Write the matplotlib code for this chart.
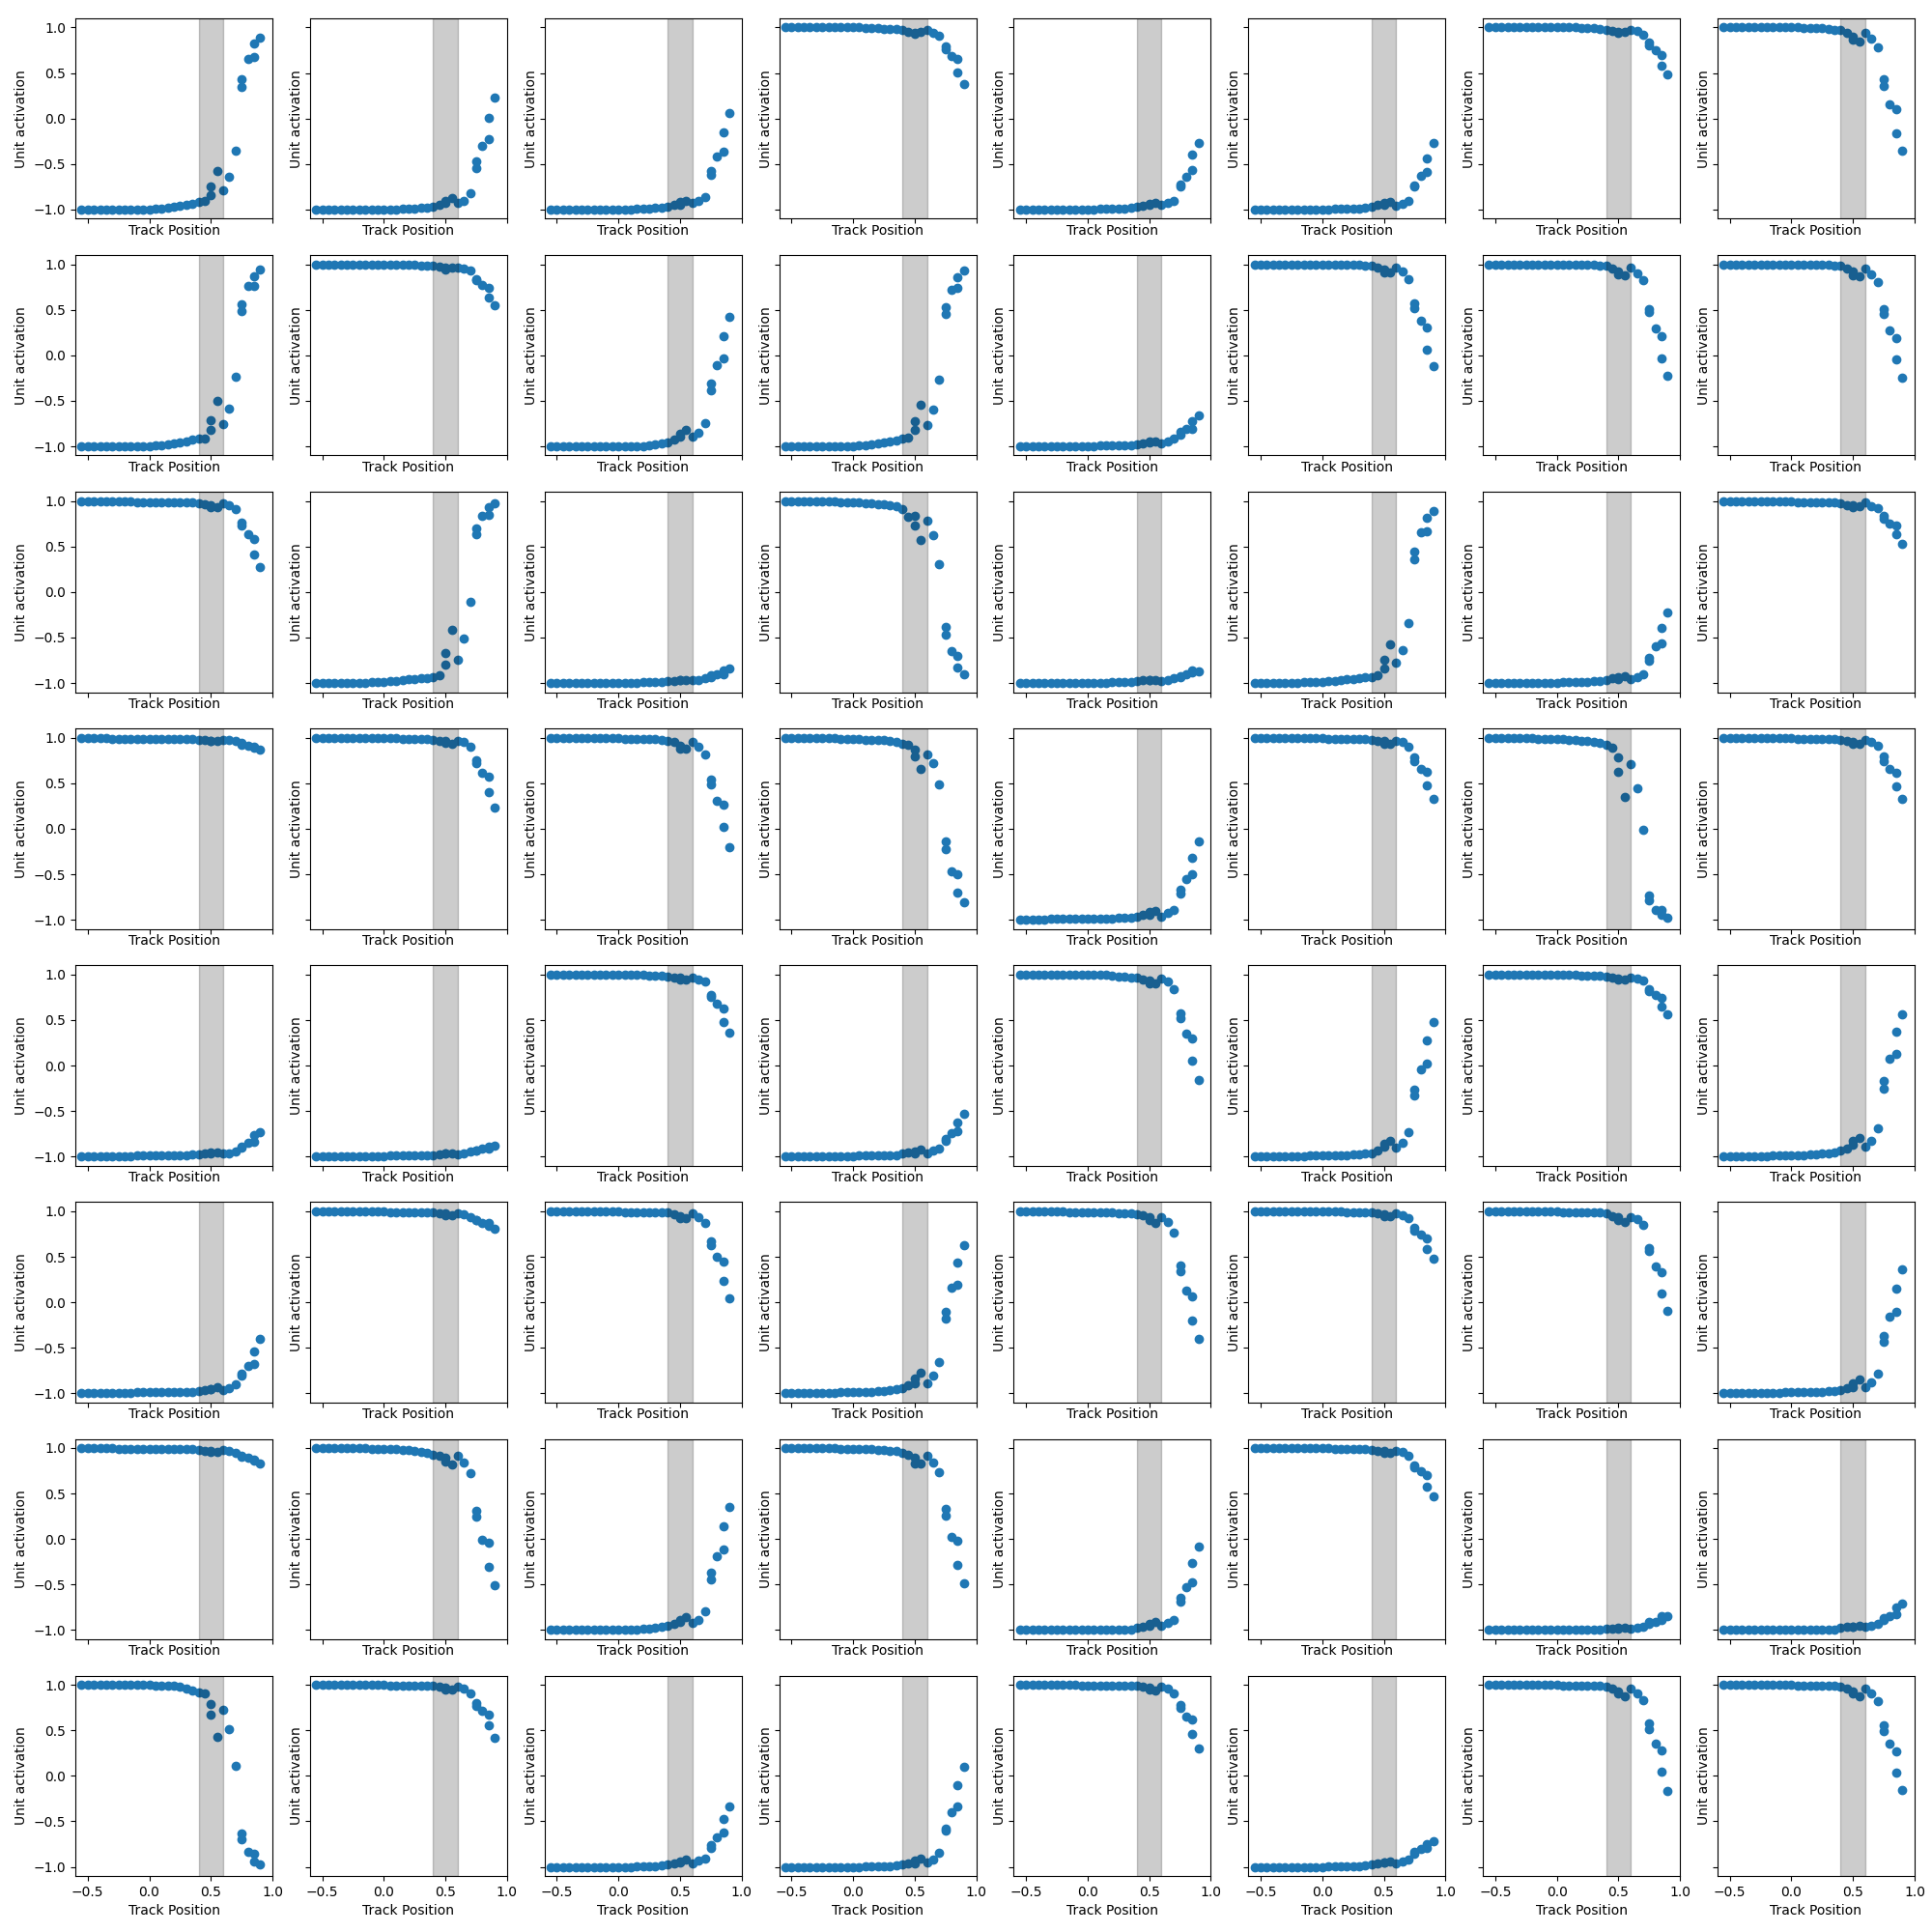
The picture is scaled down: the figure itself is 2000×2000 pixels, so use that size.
import matplotlib
matplotlib.use("Agg")
import matplotlib.pyplot as plt

# track positions sampled (0.5, 0.75 and 0.85 appear twice)
track_pos = [-0.55, -0.5, -0.45, -0.4, -0.35, -0.3, -0.25, -0.2, -0.15, -0.1, -0.05, 0.0, 0.05, 0.1,
             0.15, 0.2, 0.25, 0.3, 0.35, 0.4, 0.45, 0.5, 0.5, 0.55, 0.6, 0.65, 0.7, 0.75, 0.75, 0.8, 0.85, 0.85, 0.9]

# unit activations, one list per unit, grouped by row of the grid
act_row0 = [
    [-1, -1, -1, -1, -1, -1, -1, -1, -1, -1, -1, -1, -0.99, -0.99,
     -0.98, -0.97, -0.96, -0.95, -0.94, -0.92, -0.91, -0.84, -0.75, -0.58, -0.79, -0.64, -0.35, 0.35, 0.43, 0.65, 0.68, 0.82, 0.89],
    [-1, -1, -1, -1, -1, -1, -1, -1, -1, -1, -1, -1, -1, -1,
     -0.99, -0.99, -0.99, -0.98, -0.98, -0.97, -0.95, -0.93, -0.91, -0.87, -0.93, -0.91, -0.82, -0.54, -0.47, -0.30, -0.23, 0.01, 0.23],
    [-1, -1, -1, -1, -1, -1, -1, -1, -1, -1, -1, -1, -1, -1,
     -0.99, -0.99, -0.99, -0.98, -0.98, -0.97, -0.95, -0.95, -0.92, -0.90, -0.93, -0.91, -0.86, -0.62, -0.58, -0.42, -0.36, -0.15, 0.06],
    [1, 1, 1, 1, 1, 1, 1, 1, 1, 1, 1, 1, 1, 0.99,
     0.99, 0.99, 0.98, 0.98, 0.98, 0.97, 0.95, 0.94, 0.93, 0.95, 0.97, 0.945, 0.91, 0.79, 0.76, 0.69, 0.65, 0.51, 0.38],
    [-1, -1, -1, -1, -1, -1, -1, -1, -1, -1, -1, -1, -1, -0.99,
     -0.99, -0.99, -0.99, -0.99, -0.98, -0.97, -0.96, -0.95, -0.94, -0.93, -0.95, -0.93, -0.90, -0.75, -0.72, -0.64, -0.57, -0.40, -0.27],
    [-1, -1, -1, -1, -1, -1, -1, -1, -1, -1, -1, -1, -1, -0.99,
     -0.99, -0.99, -0.99, -0.99, -0.98, -0.97, -0.95, -0.95, -0.93, -0.92, -0.96, -0.94, -0.90, -0.75, -0.74, -0.63, -0.59, -0.44, -0.27],
    [1, 1, 1, 1, 1, 1, 1, 1, 1, 1, 1, 1, 1, 1,
     1, 0.99, 0.99, 0.99, 0.985, 0.975, 0.965, 0.955, 0.94, 0.95, 0.975, 0.96, 0.92, 0.83, 0.80, 0.745, 0.70, 0.585, 0.48],
    [1, 1, 1, 1, 1, 1, 1, 1, 1, 1, 1, 1, 1, 0.99,
     0.99, 0.99, 0.99, 0.98, 0.97, 0.97, 0.945, 0.90, 0.87, 0.85, 0.94, 0.88, 0.78, 0.43, 0.36, 0.16, 0.10, -0.16, -0.35],
]

act_row1 = [
    [-1, -1, -1, -1, -1, -1, -1, -1, -1, -1, -1, -1, -0.99, -0.99,
     -0.98, -0.97, -0.96, -0.95, -0.93, -0.91, -0.91, -0.82, -0.71, -0.50, -0.76, -0.59, -0.24, 0.49, 0.565, 0.76, 0.76, 0.87, 0.94],
    [1, 1, 1, 1, 1, 1, 1, 1, 1, 1, 1, 1, 0.99, 0.99,
     0.99, 0.99, 0.99, 0.98, 0.98, 0.98, 0.97, 0.96, 0.94, 0.96, 0.96, 0.95, 0.93, 0.84, 0.83, 0.77, 0.74, 0.63, 0.55],
    [-1, -1, -1, -1, -1, -1, -1, -1, -1, -1, -1, -1, -1, -1,
     -1, -1, -0.99, -0.98, -0.97, -0.96, -0.93, -0.89, -0.86, -0.82, -0.89, -0.85, -0.75, -0.38, -0.31, -0.11, -0.03, 0.21, 0.42],
    [-1, -1, -1, -1, -1, -1, -1, -1, -1, -1, -1, -1, -0.99, -0.99,
     -0.98, -0.97, -0.96, -0.95, -0.94, -0.91, -0.90, -0.82, -0.72, -0.54, -0.77, -0.60, -0.27, 0.45, 0.53, 0.72, 0.74, 0.86, 0.93],
    [-1, -1, -1, -1, -1, -1, -1, -1, -1, -1, -1, -1, -1, -0.99,
     -0.99, -0.99, -0.99, -0.99, -0.99, -0.98, -0.97, -0.96, -0.95, -0.95, -0.97, -0.95, -0.92, -0.87, -0.84, -0.81, -0.81, -0.72, -0.66],
    [1, 1, 1, 1, 1, 1, 1, 1, 1, 1, 1, 1, 1, 0.99,
     0.99, 0.99, 0.99, 0.99, 0.98, 0.98, 0.965, 0.94, 0.91, 0.905, 0.965, 0.92, 0.84, 0.575, 0.52, 0.38, 0.30, 0.06, -0.12],
    [1, 1, 1, 1, 1, 1, 1, 1, 1, 1, 1, 1, 1, 0.99,
     0.99, 0.99, 0.99, 0.99, 0.985, 0.98, 0.955, 0.92, 0.89, 0.88, 0.965, 0.90, 0.82, 0.51, 0.47, 0.29, 0.21, -0.03, -0.23],
    [1, 1, 1, 1, 1, 1, 1, 1, 1, 1, 1, 1, 1, 0.99,
     0.99, 0.99, 0.99, 0.99, 0.985, 0.98, 0.95, 0.92, 0.88, 0.87, 0.955, 0.89, 0.80, 0.505, 0.45, 0.27, 0.19, -0.05, -0.25],
]

act_row2 = [
    [1, 1, 1, 1, 1, 1, 1, 1, 1, 0.99, 0.99, 0.99, 0.99, 0.99,
     0.99, 0.98, 0.98, 0.98, 0.98, 0.975, 0.965, 0.955, 0.93, 0.93, 0.975, 0.95, 0.91, 0.76, 0.73, 0.635, 0.585, 0.415, 0.27],
    [-1, -1, -1, -1, -1, -1, -1, -1, -1, -0.99, -0.99, -0.99, -0.98, -0.98,
     -0.97, -0.96, -0.96, -0.95, -0.95, -0.93, -0.91, -0.80, -0.67, -0.42, -0.74, -0.51, -0.11, 0.63, 0.70, 0.84, 0.85, 0.93, 0.97],
    [-1, -1, -1, -1, -1, -1, -1, -1, -1, -1, -1, -1, -1, -1,
     -1, -0.99, -0.99, -0.99, -0.99, -0.98, -0.98, -0.97, -0.97, -0.97, -0.97, -0.97, -0.95, -0.93, -0.91, -0.90, -0.90, -0.86, -0.835],
    [1, 1, 1, 1, 1, 1, 1, 1, 0.995, 0.99, 0.99, 0.985, 0.98, 0.975,
     0.97, 0.965, 0.96, 0.955, 0.94, 0.91, 0.83, 0.84, 0.73, 0.57, 0.78, 0.62, 0.31, -0.385, -0.47, -0.65, -0.70, -0.83, -0.90],
    [-1, -1, -1, -1, -1, -1, -1, -1, -1, -1, -1, -1, -1, -1,
     -1, -0.99, -0.99, -0.99, -0.99, -0.98, -0.97, -0.965, -0.97, -0.965, -0.98, -0.965, -0.95, -0.93, -0.92, -0.90, -0.88, -0.86, -0.87],
    [-1, -1, -1, -1, -1, -1, -1, -1, -0.99, -0.99, -0.99, -0.99, -0.98, -0.98,
     -0.97, -0.96, -0.96, -0.95, -0.94, -0.93, -0.91, -0.84, -0.74, -0.57, -0.78, -0.64, -0.34, 0.36, 0.44, 0.66, 0.67, 0.82, 0.89],
    [-1, -1, -1, -1, -1, -1, -1, -1, -1, -1, -1, -1, -0.99, -0.99,
     -0.99, -0.99, -0.99, -0.98, -0.98, -0.97, -0.95, -0.96, -0.94, -0.92, -0.96, -0.93, -0.90, -0.75, -0.72, -0.60, -0.56, -0.39, -0.22],
    [1, 1, 1, 1, 1, 1, 1, 1, 1, 1, 1, 1, 0.99, 0.99,
     0.99, 0.99, 0.99, 0.99, 0.985, 0.975, 0.955, 0.955, 0.93, 0.94, 0.98, 0.945, 0.92, 0.84, 0.81, 0.75, 0.73, 0.63, 0.53],
]

act_row3 = [
    [1, 1, 1, 1, 1, 0.99, 0.99, 0.99, 0.99, 0.99, 0.99, 0.99, 0.99, 0.99,
     0.99, 0.99, 0.99, 0.985, 0.985, 0.98, 0.975, 0.97, 0.96, 0.96, 0.98, 0.975, 0.96, 0.94, 0.92, 0.91, 0.90, 0.89, 0.87],
    [1, 1, 1, 1, 1, 1, 1, 1, 1, 1, 1, 1, 1, 1,
     0.99, 0.99, 0.99, 0.99, 0.99, 0.98, 0.965, 0.965, 0.94, 0.93, 0.965, 0.955, 0.90, 0.75, 0.72, 0.61, 0.57, 0.40, 0.23],
    [1, 1, 1, 1, 1, 1, 1, 1, 1, 1, 1, 1, 0.99, 0.99,
     0.99, 0.99, 0.985, 0.985, 0.975, 0.965, 0.95, 0.91, 0.88, 0.875, 0.955, 0.90, 0.82, 0.545, 0.49, 0.31, 0.27, 0.02, -0.20],
    [1, 1, 1, 1, 1, 1, 1, 1, 1, 0.99, 0.99, 0.99, 0.99, 0.98,
     0.98, 0.98, 0.975, 0.965, 0.955, 0.93, 0.92, 0.865, 0.795, 0.66, 0.82, 0.72, 0.49, -0.14, -0.22, -0.47, -0.50, -0.70, -0.81],
    [-1, -1, -1, -1, -1, -0.99, -0.99, -0.99, -0.99, -0.99, -0.99, -0.99, -0.985, -0.985,
     -0.985, -0.985, -0.98, -0.98, -0.98, -0.97, -0.95, -0.91, -0.94, -0.90, -0.965, -0.92, -0.89, -0.67, -0.71, -0.55, -0.50, -0.32, -0.14],
    [1, 1, 1, 1, 1, 1, 1, 1, 1, 1, 1, 1, 0.99, 0.99,
     0.99, 0.99, 0.99, 0.99, 0.99, 0.98, 0.965, 0.965, 0.935, 0.93, 0.965, 0.95, 0.90, 0.78, 0.745, 0.66, 0.63, 0.48, 0.33],
    [1, 1, 1, 1, 1, 1, 1, 1, 0.99, 0.99, 0.99, 0.99, 0.99, 0.98,
     0.975, 0.97, 0.96, 0.95, 0.94, 0.92, 0.89, 0.78, 0.63, 0.345, 0.71, 0.45, -0.01, -0.73, -0.79, -0.89, -0.89, -0.95, -0.98],
    [1, 1, 1, 1, 1, 1, 1, 1, 1, 1, 1, 1, 0.99, 0.99,
     0.99, 0.99, 0.99, 0.99, 0.99, 0.975, 0.965, 0.955, 0.93, 0.93, 0.975, 0.95, 0.91, 0.79, 0.745, 0.66, 0.62, 0.47, 0.33],
]

act_row4 = [
    [-1, -1, -1, -1, -1, -1, -1, -1, -1, -0.99, -0.99, -0.99, -0.99, -0.99,
     -0.99, -0.985, -0.985, -0.985, -0.975, -0.975, -0.97, -0.95, -0.965, -0.95, -0.965, -0.96, -0.94, -0.89, -0.905, -0.845, -0.835, -0.765, -0.735],
    [-1, -1, -1, -1, -1, -1, -1, -1, -1, -1, -1, -1, -0.99, -0.99,
     -0.99, -0.99, -0.99, -0.99, -0.99, -0.985, -0.975, -0.97, -0.97, -0.965, -0.98, -0.97, -0.945, -0.93, -0.93, -0.915, -0.915, -0.89, -0.885],
    [1, 1, 1, 1, 1, 1, 1, 1, 1, 1, 1, 1, 1, 1,
     1, 1, 0.99, 0.99, 0.99, 0.98, 0.965, 0.965, 0.945, 0.945, 0.965, 0.945, 0.92, 0.77, 0.75, 0.68, 0.63, 0.475, 0.36],
    [-1, -1, -1, -1, -1, -1, -1, -1, -1, -1, -1, -1, -0.99, -0.99,
     -0.99, -0.99, -0.985, -0.985, -0.985, -0.965, -0.95, -0.94, -0.96, -0.92, -0.965, -0.935, -0.915, -0.81, -0.83, -0.745, -0.72, -0.63, -0.53],
    [1, 1, 1, 1, 1, 1, 1, 1, 1, 1, 1, 1, 1, 1,
     1, 0.99, 0.98, 0.98, 0.97, 0.965, 0.945, 0.93, 0.90, 0.90, 0.955, 0.925, 0.84, 0.57, 0.52, 0.35, 0.30, 0.05, -0.16],
    [-1, -1, -1, -1, -1, -1, -1, -1, -1, -0.99, -0.99, -0.99, -0.99, -0.99,
     -0.985, -0.985, -0.98, -0.975, -0.97, -0.96, -0.935, -0.89, -0.86, -0.825, -0.905, -0.85, -0.73, -0.33, -0.265, -0.045, 0.025, 0.275, 0.475],
    [1, 1, 1, 1, 1, 1, 1, 1, 1, 1, 1, 1, 1, 1,
     1, 0.99, 0.99, 0.99, 0.99, 0.98, 0.965, 0.96, 0.945, 0.945, 0.965, 0.955, 0.93, 0.84, 0.82, 0.78, 0.74, 0.65, 0.565],
    [-1, -1, -1, -1, -1, -1, -1, -1, -0.99, -0.99, -0.99, -0.99, -0.99, -0.985,
     -0.98, -0.975, -0.97, -0.96, -0.955, -0.935, -0.915, -0.87, -0.825, -0.79, -0.89, -0.83, -0.69, -0.25, -0.17, 0.075, 0.13, 0.37, 0.565],
]

act_row5 = [
    [-1, -1, -1, -1, -1, -1, -1, -1, -1, -0.99, -0.99, -0.99, -0.99, -0.99,
     -0.99, -0.985, -0.985, -0.985, -0.985, -0.975, -0.965, -0.95, -0.955, -0.935, -0.965, -0.94, -0.905, -0.80, -0.78, -0.70, -0.675, -0.54, -0.40],
    [1, 1, 1, 1, 1, 1, 1, 1, 1, 1, 1, 1, 0.99, 0.99,
     0.99, 0.99, 0.99, 0.99, 0.99, 0.985, 0.975, 0.975, 0.96, 0.96, 0.975, 0.97, 0.93, 0.905, 0.90, 0.875, 0.87, 0.84, 0.81],
    [1, 1, 1, 1, 1, 1, 1, 1, 1, 1, 1, 1, 0.99, 0.99,
     0.99, 0.99, 0.99, 0.99, 0.99, 0.985, 0.97, 0.945, 0.92, 0.92, 0.975, 0.93, 0.875, 0.67, 0.63, 0.50, 0.45, 0.24, 0.04],
    [-1, -1, -1, -1, -1, -1, -1, -1, -1, -0.99, -0.99, -0.99, -0.99, -0.99,
     -0.98, -0.975, -0.975, -0.965, -0.955, -0.94, -0.915, -0.895, -0.84, -0.77, -0.885, -0.80, -0.66, -0.18, -0.10, 0.16, 0.195, 0.435, 0.63],
    [1, 1, 1, 1, 1, 1, 1, 1, 0.99, 0.99, 0.99, 0.99, 0.99, 0.985,
     0.985, 0.985, 0.98, 0.975, 0.975, 0.97, 0.96, 0.93, 0.90, 0.87, 0.94, 0.885, 0.77, 0.40, 0.34, 0.125, 0.06, -0.195, -0.40],
    [1, 1, 1, 1, 1, 1, 1, 1, 1, 1, 1, 1, 1, 1,
     1, 0.99, 0.99, 0.99, 0.99, 0.985, 0.975, 0.965, 0.945, 0.945, 0.975, 0.955, 0.92, 0.815, 0.79, 0.745, 0.70, 0.585, 0.48],
    [1, 1, 1, 1, 1, 1, 1, 1, 1, 1, 1, 1, 0.99, 0.99,
     0.99, 0.99, 0.99, 0.985, 0.985, 0.975, 0.95, 0.93, 0.90, 0.88, 0.94, 0.91, 0.85, 0.60, 0.56, 0.39, 0.33, 0.095, -0.095],
    [-1, -1, -1, -1, -1, -1, -1, -1, -1, -1, -0.99, -0.99, -0.99, -0.99,
     -0.99, -0.985, -0.985, -0.975, -0.975, -0.96, -0.94, -0.93, -0.895, -0.85, -0.93, -0.875, -0.78, -0.435, -0.37, -0.16, -0.105, 0.15, 0.365],
]

act_row6 = [
    [1, 1, 1, 1, 1, 1, 0.99, 0.99, 0.99, 0.99, 0.99, 0.99, 0.99, 0.99,
     0.99, 0.99, 0.99, 0.99, 0.99, 0.98, 0.97, 0.97, 0.955, 0.955, 0.98, 0.97, 0.945, 0.92, 0.90, 0.895, 0.875, 0.86, 0.825],
    [1, 1, 1, 1, 1, 1, 1, 1, 1, 0.99, 0.99, 0.99, 0.99, 0.99,
     0.98, 0.975, 0.97, 0.96, 0.95, 0.93, 0.92, 0.89, 0.85, 0.82, 0.91, 0.84, 0.72, 0.315, 0.245, -0.01, -0.045, -0.30, -0.51],
    [-1, -1, -1, -1, -1, -1, -1, -1, -1, -1, -0.99, -0.99, -0.99, -0.99,
     -0.99, -0.98, -0.98, -0.97, -0.96, -0.95, -0.935, -0.915, -0.89, -0.855, -0.925, -0.885, -0.79, -0.44, -0.365, -0.19, -0.11, 0.145, 0.35],
    [1, 1, 1, 1, 1, 1, 1, 1, 1, 0.99, 0.99, 0.99, 0.99, 0.99,
     0.99, 0.98, 0.975, 0.97, 0.965, 0.945, 0.925, 0.89, 0.835, 0.83, 0.91, 0.84, 0.73, 0.33, 0.26, 0.025, -0.02, -0.28, -0.49],
    [-1, -1, -1, -1, -1, -1, -1, -1, -1, -1, -1, -1, -1, -1,
     -1, -0.99, -0.99, -0.99, -0.99, -0.975, -0.96, -0.95, -0.935, -0.915, -0.95, -0.925, -0.885, -0.69, -0.65, -0.53, -0.47, -0.26, -0.085],
    [1, 1, 1, 1, 1, 1, 1, 1, 1, 1, 1, 1, 1, 0.99,
     0.99, 0.99, 0.99, 0.99, 0.99, 0.98, 0.97, 0.97, 0.945, 0.945, 0.97, 0.955, 0.92, 0.81, 0.785, 0.74, 0.705, 0.58, 0.465],
    [-1, -1, -1, -1, -1, -1, -1, -1, -1, -1, -1, -1, -1, -0.99,
     -0.99, -0.99, -0.99, -0.99, -0.99, -0.985, -0.985, -0.985, -0.975, -0.975, -0.985, -0.975, -0.96, -0.93, -0.915, -0.905, -0.885, -0.85, -0.845],
    [-1, -1, -1, -1, -1, -1, -1, -1, -1, -1, -1, -1, -0.99, -0.99,
     -0.99, -0.99, -0.99, -0.99, -0.99, -0.975, -0.965, -0.965, -0.96, -0.955, -0.965, -0.95, -0.93, -0.89, -0.87, -0.845, -0.825, -0.755, -0.71],
]

act_row7 = [
    [1, 1, 1, 1, 1, 1, 1, 1, 1, 1, 1, 1, 0.99, 0.99,
     0.99, 0.985, 0.98, 0.96, 0.94, 0.92, 0.90, 0.79, 0.67, 0.43, 0.72, 0.51, 0.11, -0.63, -0.70, -0.84, -0.86, -0.94, -0.97],
    [1, 1, 1, 1, 1, 1, 1, 1, 1, 1, 1, 1, 0.99, 0.99,
     0.99, 0.99, 0.99, 0.99, 0.99, 0.985, 0.975, 0.965, 0.945, 0.945, 0.975, 0.955, 0.91, 0.80, 0.77, 0.71, 0.675, 0.55, 0.415],
    [-1, -1, -1, -1, -1, -1, -1, -1, -1, -1, -1, -1, -1, -1,
     -0.99, -0.99, -0.99, -0.99, -0.985, -0.975, -0.96, -0.94, -0.95, -0.92, -0.96, -0.93, -0.905, -0.79, -0.76, -0.675, -0.62, -0.47, -0.335],
    [-1, -1, -1, -1, -1, -1, -1, -1, -1, -1, -1, -1, -1, -0.99,
     -0.99, -0.99, -0.99, -0.99, -0.985, -0.975, -0.96, -0.935, -0.96, -0.91, -0.95, -0.915, -0.85, -0.60, -0.575, -0.40, -0.335, -0.105, 0.095],
    [1, 1, 1, 1, 1, 1, 1, 1, 1, 1, 0.99, 0.99, 0.99, 0.99,
     0.99, 0.99, 0.99, 0.99, 0.99, 0.985, 0.975, 0.97, 0.945, 0.94, 0.975, 0.955, 0.91, 0.78, 0.745, 0.655, 0.615, 0.46, 0.30],
    [-1, -1, -1, -1, -1, -1, -1, -1, -1, -1, -1, -1, -0.99, -0.99,
     -0.99, -0.99, -0.99, -0.99, -0.985, -0.975, -0.965, -0.95, -0.955, -0.94, -0.96, -0.945, -0.915, -0.86, -0.84, -0.80, -0.79, -0.745, -0.715],
    [1, 1, 1, 1, 1, 1, 1, 1, 1, 1, 1, 1, 0.99, 0.99,
     0.99, 0.99, 0.985, 0.985, 0.985, 0.975, 0.96, 0.93, 0.90, 0.875, 0.96, 0.91, 0.835, 0.58, 0.515, 0.35, 0.28, 0.045, -0.165],
    [1, 1, 1, 1, 1, 1, 1, 1, 1, 1, 1, 1, 0.99, 0.99,
     0.99, 0.99, 0.99, 0.985, 0.985, 0.975, 0.96, 0.93, 0.90, 0.875, 0.96, 0.91, 0.825, 0.555, 0.495, 0.355, 0.265, 0.03, -0.155],
]

all_rows = [act_row0, act_row1, act_row2, act_row3, act_row4, act_row5, act_row6, act_row7]

fig, axes = plt.subplots(8, 8, figsize=(20, 20), sharex=True, sharey=True)

for i, row in enumerate(all_rows):
    for j, acts in enumerate(row):
        assert len(acts) == len(track_pos)
        ax = axes[i, j]
        ax.scatter(track_pos, acts)
        # shaded band drawn over the points, so they show darker inside it
        ax.axvspan(0.4, 0.6, color='k', alpha=0.2)
        # labels sit closer to the axes where tick labels are hidden
        ax.set_xlabel('Track Position', labelpad=4.0 if i == 7 else 0.5)
        ax.set_ylabel('Unit activation', labelpad=4.0 if j == 0 else 1.5)

axes[0, 0].set_xlim(-0.6, 1.0)

fig.subplots_adjust(left=0.039, right=0.991, top=0.9905, bottom=0.029,
                    wspace=0.19, hspace=0.182)
plt.savefig('out.png', dpi=100)
